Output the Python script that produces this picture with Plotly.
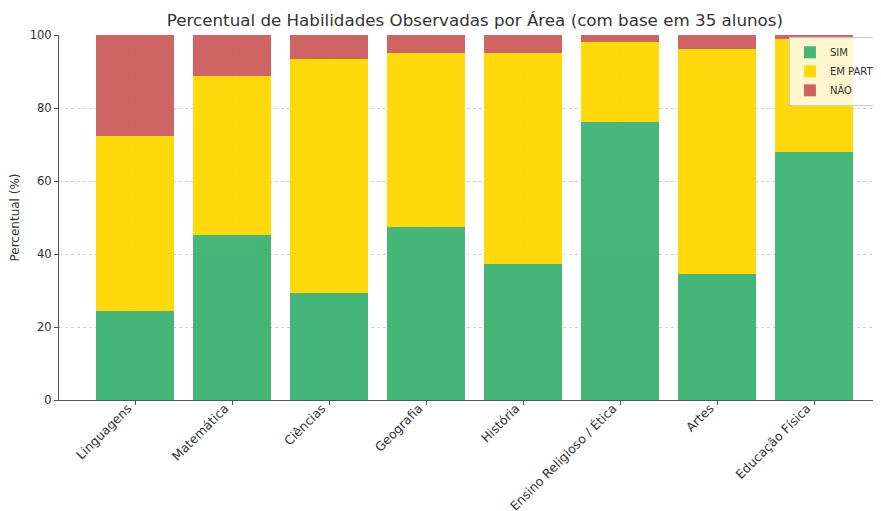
import plotly.graph_objects as go

areas = ["Linguagens", "Matemática", "Ciências", "Geografia", "História",
         "Ensino Religioso / Ética", "Artes", "Educação Física"]
sim = [24.3, 45.2, 29.4, 47.5, 37.3, 76.3, 34.4, 68.0]
em_parte = [48.0, 43.5, 64.1, 47.5, 57.7, 21.9, 61.8, 30.9]
nao = [27.7, 11.3, 6.5, 5.0, 5.0, 1.8, 3.8, 1.1]

series = [("SIM", sim, "#3CB371"), ("EM PARTE", em_parte, "#FFD700"), ("NÃO", nao, "#CD5C5C")]

fig = go.Figure()
for name, vals, col in series:
    fig.add_trace(go.Bar(x=areas, y=vals, name=name, marker=dict(color=col, line=dict(width=0)),
                         opacity=0.95, width=0.8))

font = "DejaVu Sans"
fig.update_layout(
    barmode="stack",
    width=881, height=511,
    margin=dict(l=51, r=8, t=27, b=119, autoexpand=False),
    paper_bgcolor="white", plot_bgcolor="white",
    font=dict(family=font, size=12, color="#333333"),
    title=dict(text="Percentual de Habilidades Observadas por Área (com base em 35 alunos)",
               x=0.506, xref="paper", xanchor="center", y=0.977, yref="container", yanchor="middle",
               font=dict(size=16.7, color="#333333")),
    showlegend=True,
    legend=dict(x=0.888, xanchor="left", y=0.995, yanchor="top",
                bgcolor="rgba(255,255,255,0.8)", bordercolor="#cccccc", borderwidth=1,
                font=dict(size=10, color="#333333"), traceorder="normal",
                itemwidth=30, tracegroupgap=0),
)
fig.update_xaxes(range=[-0.784, 7.69], showline=True, linecolor="#555555", linewidth=1.2,
                 ticks="outside", ticklen=4, tickcolor="#555555", tickangle=-45,
                 ticklabelshift=-7, ticklabelstandoff=-9,
                 showgrid=True, gridcolor="#d0d0d0", griddash="dot", gridwidth=1,
                 automargin=False, tickfont=dict(size=12.5))
fig.update_yaxes(range=[0, 100], showline=True, linecolor="#555555", linewidth=1.2,
                 ticks="outside", ticklen=4, tickcolor="#555555", tickvals=[0, 20, 40, 60, 80, 100],
                 showgrid=True, gridcolor="#d0d0d0", griddash="dot", gridwidth=1,
                 zeroline=False, automargin=False, tickfont=dict(size=11.5),
                 title=dict(text="Percentual (%)", font=dict(size=12), standoff=10))

fig.write_html("out.html")
